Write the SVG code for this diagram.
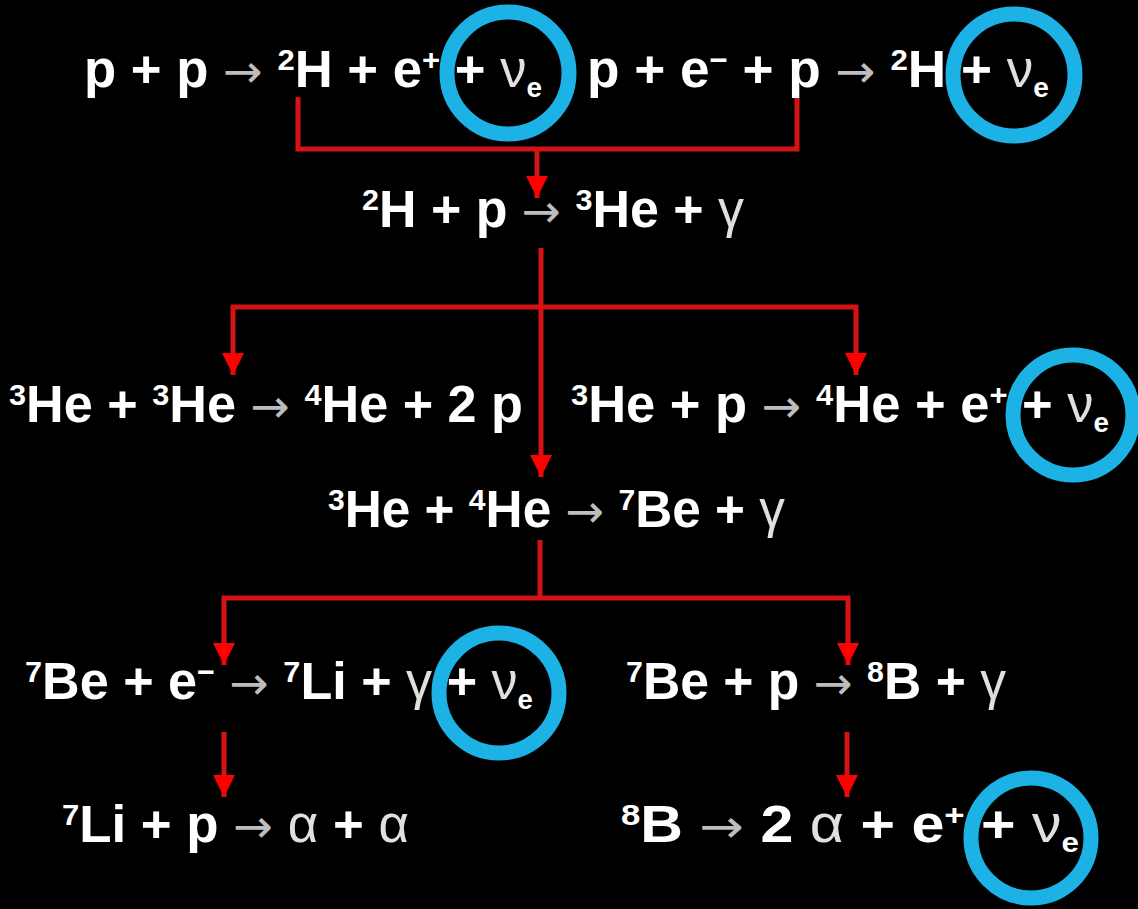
<svg xmlns="http://www.w3.org/2000/svg" width="1138" height="909" viewBox="0 0 1138 909">
<style>
.eq{font-family:"Liberation Sans",Arial,sans-serif;font-weight:bold;font-size:51px;fill:#fff}
.sp{font-size:30px}
.sb{font-size:27px}
.ar{font-family:"DejaVu Sans",sans-serif;font-weight:normal;font-size:46px;fill:#bdbdbd}
.gr{font-weight:normal;fill:#e0e0e0}
.cn{fill:none;stroke:#d41414;stroke-width:5}
.ring{fill:none;stroke:#1cb2e6;stroke-width:15}
</style>
<defs>
<marker id="ah" viewBox="0 0 10 10" refX="10" refY="5" markerUnits="userSpaceOnUse" markerWidth="22" markerHeight="22" orient="auto">
<path d="M0,0 L10,5 L0,10 z" fill="#ff0000"/>
</marker>
</defs>
<rect width="1138" height="909" fill="#000"/>
<g id="connectors">
<path class="cn" d="M298,97 V149 H797 V97"/>
<path class="cn" d="M537,149 V198" marker-end="url(#ah)"/>
<path class="cn" d="M541,248 V477" marker-end="url(#ah)"/>
<path class="cn" d="M541,307 H233 V375" marker-end="url(#ah)"/>
<path class="cn" d="M541,307 H856 V375" marker-end="url(#ah)"/>
<path class="cn" d="M540,540 V598"/>
<path class="cn" d="M540,598 H224 V665" marker-end="url(#ah)"/>
<path class="cn" d="M540,598 H848 V665" marker-end="url(#ah)"/>
<path class="cn" d="M224,732 V797" marker-end="url(#ah)"/>
<path class="cn" d="M847,732 V797" marker-end="url(#ah)"/>
</g>
<g id="pp">
<text class="eq" x="84" y="87" textLength="458" lengthAdjust="spacingAndGlyphs">p + p <tspan class="ar">→</tspan> <tspan class="sp" dy="-17">2</tspan><tspan dy="17">H + e</tspan><tspan class="sp" dy="-17">+</tspan><tspan dy="17"> + </tspan><tspan class="gr">ν</tspan><tspan class="sb" dy="10">e</tspan></text>
</g>
<g id="pep">
<text class="eq" x="587" y="87" textLength="462" lengthAdjust="spacingAndGlyphs">p + e<tspan class="sp" dy="-17">−</tspan><tspan dy="17"> + p </tspan><tspan class="ar">→</tspan> <tspan class="sp" dy="-17">2</tspan><tspan dy="17">H + </tspan><tspan class="gr">ν</tspan><tspan class="sb" dy="10">e</tspan></text>
</g>
<g id="h2p">
<text class="eq" x="362" y="227" textLength="382" lengthAdjust="spacingAndGlyphs"><tspan class="sp" dy="-17">2</tspan><tspan dy="17">H + p </tspan><tspan class="ar">→</tspan> <tspan class="sp" dy="-17">3</tspan><tspan dy="17">He + </tspan><tspan class="gr">γ</tspan></text>
</g>
<g id="he3he3">
<text class="eq" x="9" y="422" textLength="514" lengthAdjust="spacingAndGlyphs"><tspan class="sp" dy="-17">3</tspan><tspan dy="17">He + </tspan><tspan class="sp" dy="-17">3</tspan><tspan dy="17">He </tspan><tspan class="ar">→</tspan> <tspan class="sp" dy="-17">4</tspan><tspan dy="17">He + 2 p</tspan></text>
</g>
<g id="hep">
<text class="eq" x="571" y="422" textLength="538" lengthAdjust="spacingAndGlyphs"><tspan class="sp" dy="-17">3</tspan><tspan dy="17">He + p </tspan><tspan class="ar">→</tspan> <tspan class="sp" dy="-17">4</tspan><tspan dy="17">He + e</tspan><tspan class="sp" dy="-17">+</tspan><tspan dy="17"> + </tspan><tspan class="gr">ν</tspan><tspan class="sb" dy="10">e</tspan></text>
</g>
<g id="he3he4">
<text class="eq" x="328" y="527" textLength="457" lengthAdjust="spacingAndGlyphs"><tspan class="sp" dy="-17">3</tspan><tspan dy="17">He + </tspan><tspan class="sp" dy="-17">4</tspan><tspan dy="17">He </tspan><tspan class="ar">→</tspan> <tspan class="sp" dy="-17">7</tspan><tspan dy="17">Be + </tspan><tspan class="gr">γ</tspan></text>
</g>
<g id="be7e">
<text class="eq" x="25" y="699" textLength="508" lengthAdjust="spacingAndGlyphs"><tspan class="sp" dy="-17">7</tspan><tspan dy="17">Be + e</tspan><tspan class="sp" dy="-17">−</tspan><tspan dy="17"> </tspan><tspan class="ar">→</tspan> <tspan class="sp" dy="-17">7</tspan><tspan dy="17">Li + </tspan><tspan class="gr">γ</tspan> + <tspan class="gr">ν</tspan><tspan class="sb" dy="10">e</tspan></text>
</g>
<g id="be7p">
<text class="eq" x="626" y="699" textLength="380" lengthAdjust="spacingAndGlyphs"><tspan class="sp" dy="-17">7</tspan><tspan dy="17">Be + p </tspan><tspan class="ar">→</tspan> <tspan class="sp" dy="-17">8</tspan><tspan dy="17">B + </tspan><tspan class="gr">γ</tspan></text>
</g>
<g id="li7p">
<text class="eq" x="62" y="842" textLength="347" lengthAdjust="spacingAndGlyphs"><tspan class="sp" dy="-17">7</tspan><tspan dy="17">Li + p </tspan><tspan class="ar">→</tspan> <tspan class="gr">α</tspan> + <tspan class="gr">α</tspan></text>
</g>
<g id="b8">
<text class="eq" x="621" y="842" textLength="458" lengthAdjust="spacingAndGlyphs"><tspan class="sp" dy="-17">8</tspan><tspan dy="17">B </tspan><tspan class="ar">→</tspan> 2 <tspan class="gr">α</tspan> + e<tspan class="sp" dy="-17">+</tspan><tspan dy="17"> + </tspan><tspan class="gr">ν</tspan><tspan class="sb" dy="10">e</tspan></text>
</g>
<g id="neutrino-rings">
<circle class="ring" cx="508" cy="73" r="61"/>
<circle class="ring" cx="1014" cy="75" r="61"/>
<circle class="ring" cx="1073" cy="415" r="60"/>
<circle class="ring" cx="499" cy="693" r="60"/>
<circle class="ring" cx="1031" cy="838" r="60"/>
</g>
</svg>
